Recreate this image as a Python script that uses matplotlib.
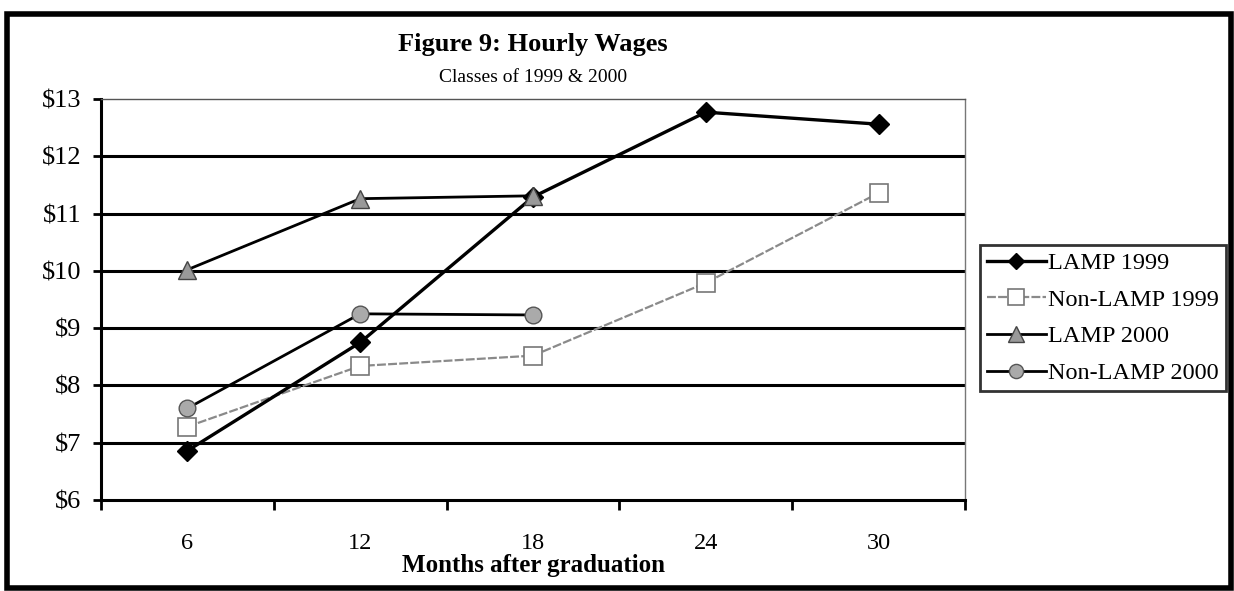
import matplotlib
matplotlib.use('Agg')
import matplotlib.pyplot as plt
from matplotlib.patches import Rectangle

plt.rcParams['font.family'] = ['Liberation Serif', 'DejaVu Serif']

# data
months = ['6', '12', '18', '24', '30']
lamp_1999 = [6.86, 8.75, 11.29, 12.77, 12.56]
nonlamp_1999 = [7.28, 8.34, 8.52, 9.79, 11.36]
lamp_2000 = [10.02, 11.26, 11.31]
nonlamp_2000 = [7.60, 9.25, 9.23]
yticks = [6, 7, 8, 9, 10, 11, 12, 13]

fig = plt.figure(figsize=(12.34, 5.91), dpi=100)
ax = fig.add_axes([101 / 1234, 1 - 500 / 591, 864 / 1234, 401 / 591])

x = list(range(len(months)))

# gridlines
for v in yticks[1:-1]:
    ax.axhline(v, color='black', lw=2.2, zorder=1)

ax.plot(x, lamp_1999, color='black', lw=2.4, marker='D', ms=10,
        mfc='black', mec='black', zorder=4, label='LAMP 1999')
ax.plot(x, nonlamp_1999, color='#8a8a8a', lw=1.6, ls=(0, (4, 1)), marker='s', ms=13,
        mfc='white', mec='#777777', mew=1.2, zorder=3, label='Non-LAMP 1999')
ax.plot(x[:3], lamp_2000, color='black', lw=2.0, marker='^', ms=13,
        mfc='#999999', mec='#444444', zorder=4, label='LAMP 2000')
ax.plot(x[:3], nonlamp_2000, color='black', lw=2.0, marker='o', ms=12,
        mfc='#aaaaaa', mec='#555555', zorder=4, label='Non-LAMP 2000')

ax.set_xlim(-0.5, 4.5)
ax.set_ylim(6, 13)
ax.set_yticks(yticks)
ax.set_yticklabels(['$' + str(v) for v in yticks], fontsize=19)
ax.set_xticks(x)
ax.set_xticklabels(months, fontsize=17.5)
ax.set_xticks([i + 0.5 for i in range(-1, 5)], minor=True)
ax.tick_params(axis='x', which='major', length=0, pad=24)
ax.tick_params(axis='x', which='minor', length=7, width=2, direction='out')
ax.tick_params(axis='y', length=6, width=2, direction='out', pad=8)

ax.spines['left'].set_linewidth(2.2)
ax.spines['bottom'].set_linewidth(2.2)
ax.spines['top'].set_linewidth(1.0)
ax.spines['top'].set_color('#555555')
ax.spines['right'].set_linewidth(1.0)
ax.spines['right'].set_color('#777777')
ax.spines['right'].set_linestyle((0, (2, 1)))

ax.set_xlabel('Months after graduation', fontsize=18, fontweight='bold', labelpad=0)

fig.text(533 / 1234, 1 - 45 / 591, 'Figure 9: Hourly Wages', ha='center', va='center',
         fontsize=19, fontweight='bold')
fig.text(533 / 1234, 1 - 78 / 591, 'Classes of 1999 & 2000', ha='center', va='center',
         fontsize=14)

leg = ax.legend(loc='upper left', bbox_to_anchor=(980 / 1234, 1 - 245 / 591),
                bbox_transform=fig.transFigure, fontsize=17.5, frameon=True,
                fancybox=False, edgecolor='black', borderpad=0.3, labelspacing=0.6,
                handlelength=2.4, handletextpad=0.1, borderaxespad=0, markerscale=0.85)
leg.get_frame().set_linewidth(2)

# outer frame
fig.patches.append(Rectangle((7 / 1234, 3 / 591), 1224 / 1234, 574 / 591,
                             transform=fig.transFigure, fill=False,
                             edgecolor='black', lw=4))

fig.savefig('out.png', dpi=100)
